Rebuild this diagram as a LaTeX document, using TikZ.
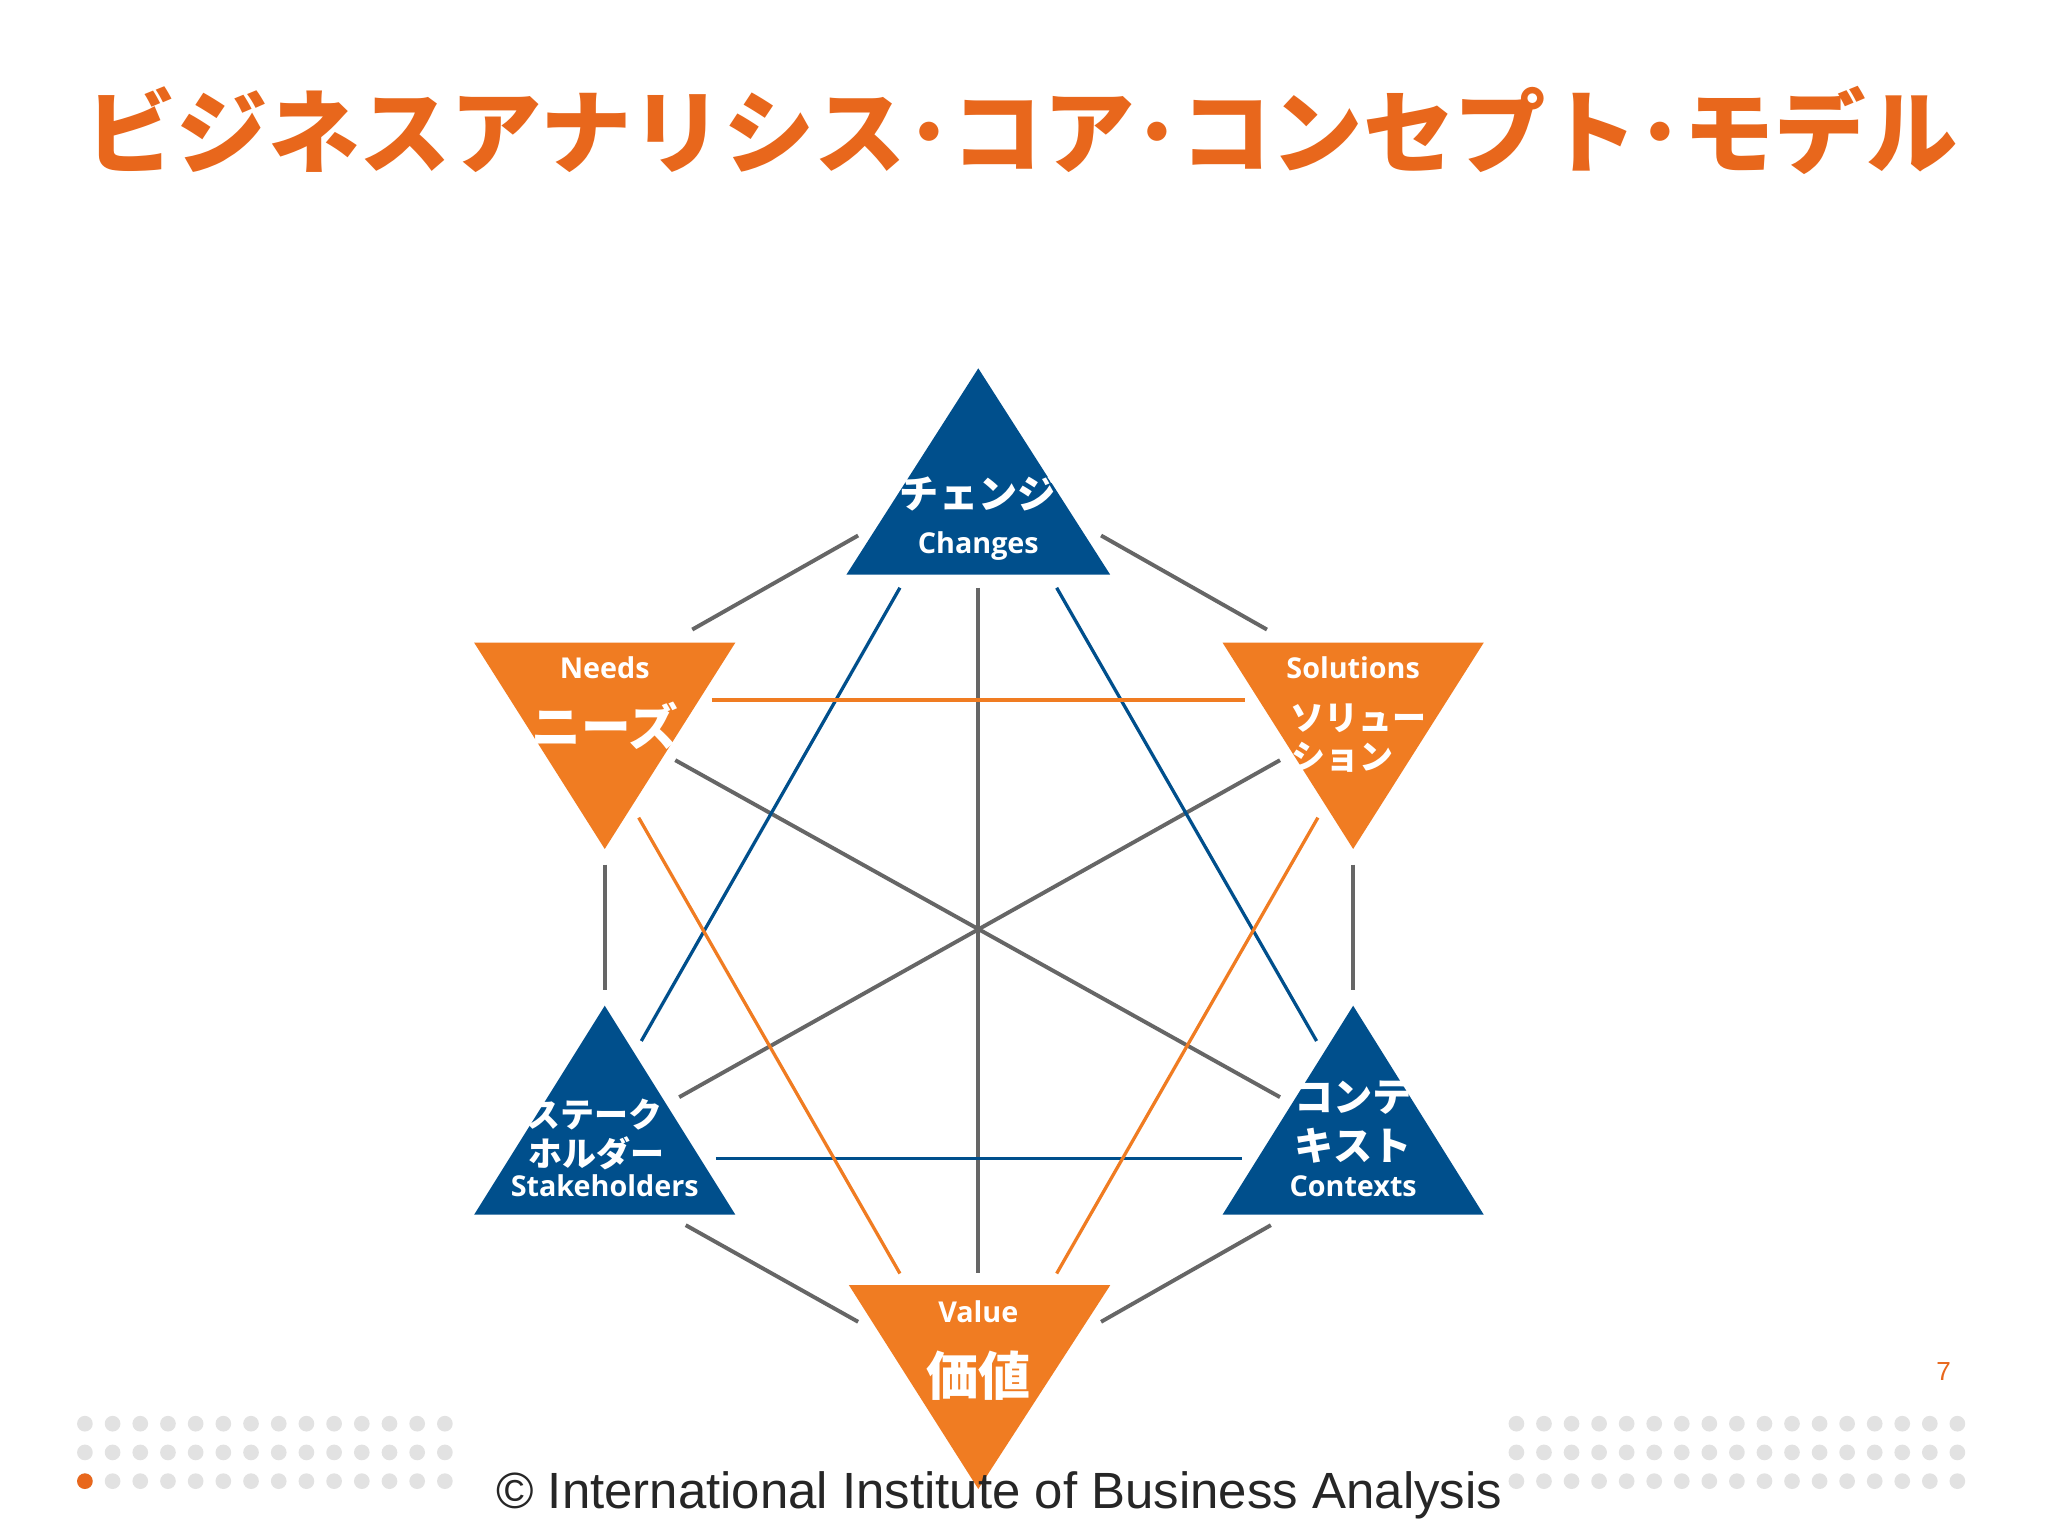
\documentclass[tikz,border=0pt]{standalone}
\usepackage{fontspec}
\setmainfont{Liberation Sans}
\newfontfamily\jp{Noto Sans CJK JP}
\newfontfamily\lat{Open Sans}
\definecolor{ob}{HTML}{F07C22}
\definecolor{tt}{HTML}{E8671C}
\definecolor{bb}{HTML}{004F8C}
\definecolor{gl}{HTML}{666666}
\definecolor{dotc}{HTML}{E2E2E2}
\begin{document}
\begin{tikzpicture}[x=1pt,y=-1pt,
  gline/.style={gl,line width=3pt},
  bline/.style={bb,line width=2.5pt},
  oline/.style={ob,line width=2.5pt},
  jt/.style={text=white,font=\jp\bfseries\fontsize{30}{32}\selectfont},
  lt/.style={text=white,font=\lat\bfseries\fontsize{22}{24}\selectfont}]
\useasboundingbox (0,0) rectangle (1568,1176);
\fill[white] (0,0) rectangle (1568,1176);
% triangles
\fill[bb] (749,282)--(850,440)--(648,440)--cycle;
\fill[ob] (363,492)--(563,492)--(463,650)--cycle;
\fill[ob] (936,492)--(1136,492)--(1036,650)--cycle;
\fill[bb] (463,770)--(563,930)--(363,930)--cycle;
\fill[bb] (1036,770)--(1136,930)--(936,930)--cycle;
\fill[ob] (650,984)--(850,984)--(749,1140)--cycle;
% connector endpoints
\coordinate (a1) at (530,482); \coordinate (a2) at (657,410);
\coordinate (b1) at (843,410); \coordinate (b2) at (970,482);
\coordinate (c1) at (463,662); \coordinate (c2) at (463,758);
\coordinate (d1) at (1036,662); \coordinate (d2) at (1036,758);
\coordinate (e1) at (525,938); \coordinate (e2) at (657,1012);
\coordinate (f1) at (843,1012); \coordinate (f2) at (973,938);
\coordinate (g1) at (749,450); \coordinate (g2) at (749,975);
\coordinate (h1) at (517,582); \coordinate (h2) at (980,840);
\coordinate (i1) at (980,582); \coordinate (i2) at (520,840);
\coordinate (j1) at (689,450); \coordinate (j2) at (491,797);
\coordinate (k1) at (809,450); \coordinate (k2) at (1008,797);
\coordinate (l1) at (548,887); \coordinate (l2) at (951,887);
\coordinate (m1) at (545,536); \coordinate (m2) at (953,536);
\coordinate (n1) at (489,626); \coordinate (n2) at (689,975);
\coordinate (o1) at (1009,626); \coordinate (o2) at (809,975);
\foreach \p/\q in {a1/a2,b1/b2,c1/c2,d1/d2,e1/e2,f1/f2,g1/g2,h1/h2,i1/i2} \draw[gline] (\p)--(\q);
\foreach \p/\q in {j1/j2,k1/k2,l1/l2} \draw[bline] (\p)--(\q);
\foreach \p/\q in {m1/m2,n1/n2,o1/o2} \draw[oline] (\p)--(\q);
% labels
\node[jt] (t1) at (749,378) {チェンジ};
\node[lt] (t2) at (749,418) {Changes};
\node[lt] (t3) at (463,511) {Needs};
\node[jt,font=\jp\bfseries\fontsize{38}{40}\selectfont] (t4) at (463,556) {ニーズ};
\node[lt] (t5) at (1036,511) {Solutions};
\node[jt,font=\jp\bfseries\fontsize{26}{28}\selectfont] (t6) at (1040,550) {ソリュー};
\node[jt,font=\jp\bfseries\fontsize{26}{28}\selectfont] (t7) at (1028,580) {ション};
\node[jt,font=\jp\bfseries\fontsize{26}{28}\selectfont] (t8) at (455,853) {ステーク};
\node[jt,font=\jp\bfseries\fontsize{26}{28}\selectfont] (t9) at (457,883) {ホルダー};
\node[lt] (t10) at (463,908) {Stakeholders};
\node[jt] (t11) at (1036,840) {コンテ};
\node[jt] (t12) at (1036,877) {キスト};
\node[lt] (t13) at (1036,908) {Contexts};
\node[lt] (t14) at (749,1004) {Value};
\node[jt,font=\jp\bfseries\fontsize{40}{42}\selectfont] (t15) at (749,1053) {価値};
% title
\node[text=tt,font=\jp\bfseries\fontsize{70}{72}\selectfont] (title) at (782,100) {ビジネスアナリシス･コア･コンセプト･モデル};
% dots
\foreach \r in {0,1,2} {
  \foreach \c in {0,...,13} \fill[dotc] (65+21.2*\c,1090+22*\r) circle (6);
  \foreach \c in {0,...,16} \fill[dotc] (1161+21.1*\c,1090+22*\r) circle (6);
}
\fill[tt] (65,1134) circle (6);
\node[text=tt,font=\fontsize{20}{22}\selectfont] (pg) at (1488,1050) {7};
\node[text=black!85,font=\fontsize{39}{41}\selectfont] (foot) at (765,1145) {© International Institute of Business Analysis};
\end{tikzpicture}
\end{document}
